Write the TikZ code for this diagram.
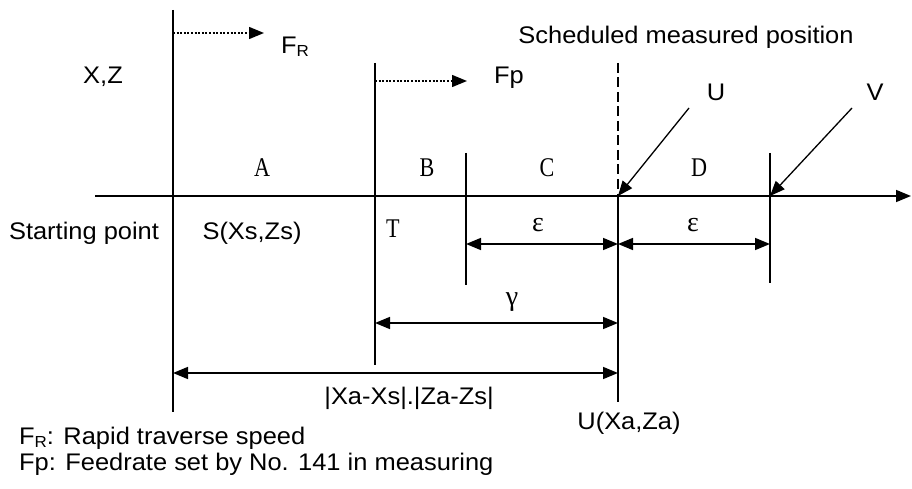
\documentclass[tikz,border=0pt]{standalone}
\usepackage{fontspec}
\setmainfont[FakeStretch=1.06]{Liberation Sans}
\newfontfamily\serifL[FakeStretch=0.82]{Liberation Serif}
\newfontfamily\greekL{Liberation Serif}
\usetikzlibrary{arrows.meta}
\newcommand\myFR{F\raisebox{-0.12em}{\fontsize{16}{16}\selectfont R}}
\tikzset{
  line/.style={line width=1.6pt},
  tip/.style={-{Triangle[length=15pt,width=12pt]}},
  dbl/.style={{Triangle[length=15pt,width=12pt]}-{Triangle[length=15pt,width=12pt]}, line width=1.6pt},
  dotline/.style={line width=1.4pt, dash pattern=on 2pt off 1.6pt},
  sans/.style={inner sep=0pt, font=\fontsize{24}{27}\selectfont},
  ser/.style={inner sep=0pt, font=\serifL\fontsize{27}{30}\selectfont},
  grk/.style={inner sep=0pt, font=\greekL\fontsize{28}{30}\selectfont},
}
\begin{document}
\begin{tikzpicture}[x=1pt,y=-1pt]
\useasboundingbox (0,0) rectangle (912,489);
% coordinates
\coordinate (axL) at (95,196);
\coordinate (axR) at (911,196);
\coordinate (v1t) at (173,10);   \coordinate (v1b) at (173,412);
\coordinate (v2t) at (375,63);   \coordinate (v2b) at (375,365);
\coordinate (v3t) at (466,153);  \coordinate (v3b) at (466,285);
\coordinate (v4t) at (618,63);   \coordinate (v4m) at (618,196);  \coordinate (v4b) at (618,402);
\coordinate (v5t) at (770,153);  \coordinate (v5m) at (770,196);  \coordinate (v5b) at (770,283);
\coordinate (fr0) at (173,33);   \coordinate (fr1) at (264,33);
\coordinate (fp0) at (375,81);   \coordinate (fp1) at (467,81);
\coordinate (u0) at (689,108);
\coordinate (vv0) at (852,108);
\coordinate (e1a) at (466,244);  \coordinate (e1b) at (618,244);
\coordinate (e2a) at (618,244);  \coordinate (e2b) at (770,244);
\coordinate (ga) at (375,323);   \coordinate (gb) at (618,323);
\coordinate (ba) at (173,373);   \coordinate (bb) at (618,373);

% lines
\draw[line,tip] (axL) -- (axR);
\draw[line] (v1t) -- (v1b);
\draw[line] (v2t) -- (v2b);
\draw[line] (v3t) -- (v3b);
\draw[line, dash pattern=on 10pt off 4.5pt] (v4t) -- (v4m);
\draw[line] (v4m) -- (v4b);
\draw[line] (v5t) -- (v5b);
\draw[dotline,tip] (fr0) -- (fr1);
\draw[dotline,tip] (fp0) -- (fp1);
\draw[line width=1.3pt,tip] (u0) -- (v4m);
\draw[line width=1.3pt,tip] (vv0) -- (v5m);
\draw[dbl] (e1a) -- (e1b);
\draw[dbl] (e2a) -- (e2b);
\draw[dbl] (ga) -- (gb);
\draw[dbl] (ba) -- (bb);

% labels
\node[sans] (lFR) at (295,47) {\myFR};
\node[sans] (lFp) at (509,78) {Fp};
\node[sans] (lXZ) at (103,77) {X,Z};
\node[sans] (lSch) at (686,37) {Scheduled measured position};
\node[sans] (lU) at (716,92) {U};
\node[sans] (lV) at (875,92) {V};
\node[ser] (lA) at (262,168) {A};
\node[ser] (lB) at (427,168) {B};
\node[ser] (lC) at (547,168) {C};
\node[ser] (lD) at (699,168) {D};
\node[ser] (lT) at (393,229) {T};
\node[sans] (lSP) at (84,233) {Starting point};
\node[sans] (lS) at (252,233) {S(Xs,Zs)};
\node[grk] (le1) at (538,225) {ε};
\node[grk] (le2) at (693,225) {ε};
\node[grk] (lg) at (512,302) {γ};
\node[sans] (lXa) at (409,398) {|Xa-Xs|.|Za-Zs|};
\node[sans] (lU2) at (629,423) {U(Xa,Za)};
\node[sans, anchor=west] (leg1) at (19,438) {\myFR: Rapid traverse speed};
\node[sans, anchor=west] (leg2) at (19,464) {Fp: Feedrate set by No. 141 in measuring};
\end{tikzpicture}
\end{document}
